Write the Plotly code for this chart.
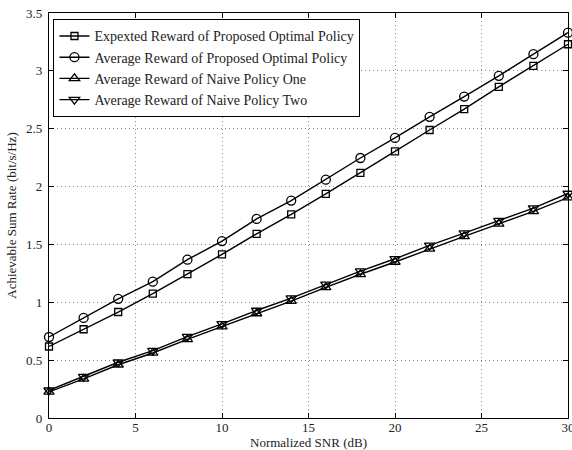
import plotly.graph_objects as go

snr = [0, 2, 4, 6, 8, 10, 12, 14, 16, 18, 20, 22, 24, 26, 28, 30]
expected_opt = [0.618, 0.767, 0.916, 1.075, 1.244, 1.414, 1.592, 1.760, 1.937, 2.118, 2.304, 2.489, 2.670, 2.862, 3.043, 3.230]
average_opt = [0.700, 0.865, 1.030, 1.178, 1.368, 1.529, 1.720, 1.879, 2.060, 2.247, 2.420, 2.603, 2.778, 2.957, 3.144, 3.330]
naive_one = [0.225, 0.338, 0.460, 0.562, 0.680, 0.790, 0.903, 1.010, 1.128, 1.242, 1.348, 1.462, 1.570, 1.678, 1.786, 1.905]
naive_two = [0.240, 0.358, 0.482, 0.582, 0.704, 0.814, 0.929, 1.036, 1.154, 1.270, 1.376, 1.492, 1.598, 1.706, 1.814, 1.940]

names = [
    "Expexted Reward of Proposed Optimal Policy",
    "Average Reward of Proposed Optimal Policy",
    "Average Reward of Naive Policy One",
    "Average Reward of Naive Policy Two",
]
series = [expected_opt, average_opt, naive_one, naive_two]
symbols = ["square-open", "circle-open", "triangle-up-open", "triangle-down-open"]
sizes = [7, 9, 9, 9]

FONT = "Liberation Serif, Times New Roman, serif"
TXT = "#222"

fig = go.Figure()
for name, ys, sym, sz in zip(names, series, symbols, sizes):
    fig.add_trace(go.Scatter(
        x=snr, y=ys, name=name, mode="lines+markers",
        line=dict(color="black", width=1.4),
        marker=dict(symbol=sym, size=sz, color="black", line=dict(color="black", width=1.3)),
        cliponaxis=False,
    ))

axis_common = dict(
    showgrid=True, gridcolor="#8a8a8a", griddash="1px,3px", gridwidth=1,
    showline=True, linecolor="black", linewidth=1.3, mirror="ticks",
    ticks="inside", ticklen=5, tickcolor="black", tickwidth=1,
    zeroline=False, automargin=False, ticklabeloverflow="allow",
    tickfont=dict(family=FONT, size=13, color=TXT),
)

fig.update_xaxes(range=[0, 30], tickmode="array", tickvals=[0, 5, 10, 15, 20, 25, 30],
                 ticklabelstandoff=-3,
                 **axis_common)
fig.update_yaxes(range=[0, 3.5], tickmode="array", tickvals=[0, 0.5, 1, 1.5, 2, 2.5, 3, 3.5],
                 ticktext=["0", "0.5", "1", "1.5", "2", "2.5", "3", "3.5"],
                 ticklabelstandoff=3,
                 title=dict(text="Achievable Sum Rate (bit/s/Hz)", font=dict(family=FONT, size=13, color=TXT), standoff=6),
                 **axis_common)

fig.add_annotation(
    text="Normalized SNR (dB)", xref="paper", yref="paper",
    x=0.5, y=-24.5 / 405, xanchor="center", yanchor="middle",
    showarrow=False, font=dict(family=FONT, size=13, color=TXT),
)

fig.update_layout(
    width=572, height=450,
    margin=dict(l=49, r=4, t=13, b=32),
    paper_bgcolor="white", plot_bgcolor="white",
    font=dict(family=FONT, size=13, color=TXT),
    showlegend=True,
    legend=dict(
        x=0.008, y=0.985, xanchor="left", yanchor="top",
        bgcolor="white", bordercolor="black", borderwidth=1.3,
        font=dict(family=FONT, size=14, color=TXT),
        tracegroupgap=0, itemwidth=30,
    ),
)

fig.write_html(
    "out.html",
    config={"displayModeBar": False},
    post_script="document.body.style.margin='0';document.body.style.overflow='hidden';",
)
